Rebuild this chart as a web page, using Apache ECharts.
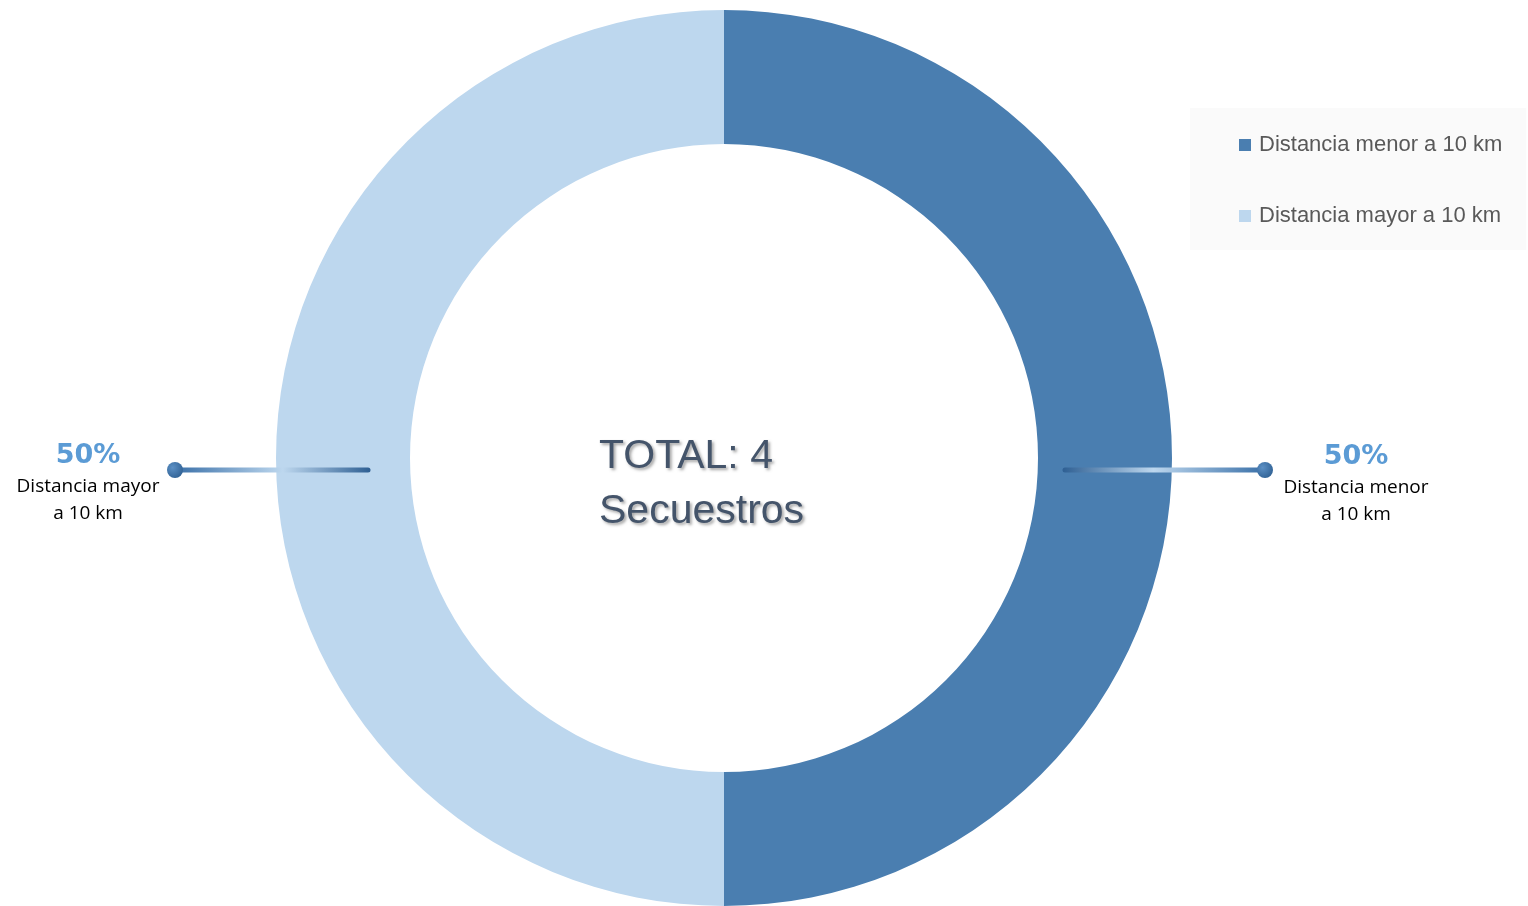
<!DOCTYPE html>
<html>
<head>
<meta charset="utf-8">
<script src="https://cdn.jsdelivr.net/npm/echarts@6/dist/echarts.min.js"></script>
<style>
  html, body { margin: 0; padding: 0; background: #fff; }
  #chart { width: 1528px; height: 906px; }
</style>
</head>
<body>
<div id="chart"></div>
<script>
// datos
var categorias = ['Distancia menor a 10 km', 'Distancia mayor a 10 km'];
var etiquetas = ['Distancia menor\na 10 km', 'Distancia mayor\na 10 km'];
var valores = [2, 2];
var colores = ['#4a7eb0', '#bdd7ee'];
var total = 4;

var cx = 724, cy = 458, rIn = 314, rOut = 448;

var myChart = echarts.init(document.getElementById('chart'));

var data = categorias.map(function(c, i) {
  return { name: c, value: valores[i], label: { formatter: '{p|{d}%}\n{n|' + etiquetas[i] + '}' }, itemStyle: { color: colores[i] } };
});

// conectores (decoracion)
function conector(x1, x2, y, dotX, stops) {
  return [{
    type: 'line',
    shape: { x1: x1, y1: y, x2: x2, y2: y },
    style: {
      lineWidth: 5, lineCap: 'round',
      stroke: new echarts.graphic.LinearGradient(x1 < x2 ? 0 : 1, 0, x1 < x2 ? 1 : 0, 0, stops)
    },
    z: 10
  }, {
    type: 'circle',
    shape: { cx: dotX, cy: y, r: 8 },
    style: {
      fill: new echarts.graphic.RadialGradient(0.35, 0.35, 0.8, [
        { offset: 0, color: '#5b8fc4' }, { offset: 1, color: '#2c5d90' }
      ])
    },
    z: 11
  }];
}

var stops = [
  { offset: 0, color: '#2e5f93' },
  { offset: 0.45, color: '#bdd7ee' },
  { offset: 1, color: '#3a70a8' }
];

var option = {
  backgroundColor: '#fff',
  legend: {
    orient: 'vertical',
    left: 1190,
    top: 108,
    padding: [26, 24, 23, 49],
    backgroundColor: '#fafafa',
    itemGap: 49,
    icon: 'rect',
    itemWidth: 12,
    itemHeight: 12,
    textStyle: { fontFamily: 'Liberation Sans', fontSize: 22, color: '#595959', padding: [0, 0, 0, 3] },
    data: categorias
  },
  graphic: [].concat(
    conector(1065, 1262, 470, 1265, stops),
    conector(368, 178, 470, 175, stops),
    [{
      type: 'text',
      left: 599,
      top: 429,
      style: {
        text: 'TOTAL: ' + total + '\nSecuestros',
        font: '41px "Liberation Sans"',
        lineHeight: 55,
        fill: '#44546a',
        textShadowColor: 'rgba(0,0,0,0.35)',
        textShadowBlur: 3,
        textShadowOffsetX: 2,
        textShadowOffsetY: 2
      },
      z: 20
    }]
  ),
  series: [{
    type: 'pie',
    center: [cx, cy],
    radius: [rIn, rOut],
    startAngle: 90,
    clockwise: true,
    silent: true,
    label: {
      show: true,
      position: 'outside',
      align: 'center',
      rich: {
        p: { fontFamily: 'DejaVu Sans', fontWeight: 'bold', fontSize: 27, color: '#5b9bd5', lineHeight: 34, align: 'center' },
        n: { fontFamily: 'Open Sans', fontSize: 19, color: '#000', lineHeight: 27, align: 'center' }
      }
    },
    labelLine: { show: false },
    labelLayout: function(params) {
      var right = params.dataIndex === 0;
      return {
        x: right ? 1356 : 88,
        y: right ? 484 : 483,
        align: 'center',
        verticalAlign: 'middle'
      };
    },
    data: data
  }]
};

myChart.setOption(option);
</script>
</body>
</html>
